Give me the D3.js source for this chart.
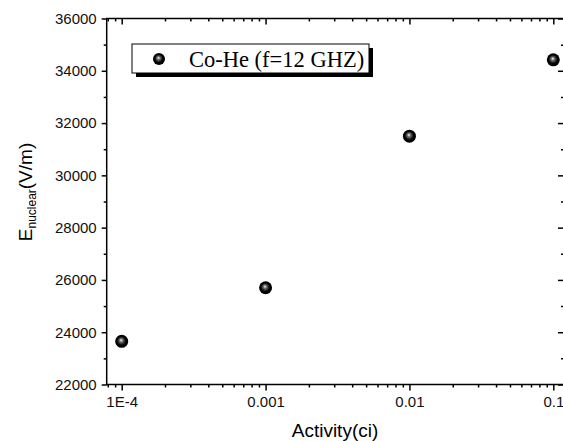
<!DOCTYPE html>
<html>
<head>
  <script src="https://cdn.jsdelivr.net/npm/d3@7/dist/d3.min.js" charset="utf-8"></script>
  <style>
    body { margin: 0; background: #fff; }
    svg { display: block; }
  </style>
</head>
<body>
  <script>

  var width = 563
  var height = 441

  // data
  var activity = [0.0001, 0.001, 0.01, 0.1];
  var eNuclear = [23650, 25700, 31500, 34420];
  var seriesName = "Co-He (f=12 GHZ)";
  var xTickLabels = ["1E-4", "0.001", "0.01", "0.1"];
  var yTicks = [22000, 24000, 26000, 28000, 30000, 32000, 34000, 36000];

  var plotLeft = 106.7, plotRight = 564, plotTop = 18.5, plotBottom = 384.5;

  var x = d3.scaleLog().domain([1e-4, 0.1]).range([121.7, 553.3]);
  var y = d3.scaleLinear().domain([22000, 36000]).range([plotBottom, plotTop]);

  // minor ticks inside the visible frame
  var lo = x.invert(plotLeft), hi = x.invert(plotRight);
  var xMinor = [];
  [-5, -4, -3, -2, -1].forEach(function(e) {
    d3.range(2, 10).forEach(function(m) {
      var v = m * Math.pow(10, e);
      if (v > lo && v < hi) xMinor.push(v);
    });
  });
  var yMinor = d3.range(23000, 36000, 2000);

  var svg = d3.select('body').append("svg")
    .attr("width", width)
    .attr("height", height);

  var defs = svg.append("defs");
  var grad = defs.append("radialGradient")
    .attr("id", "ball")
    .attr("cx", "50%").attr("cy", "50%").attr("r", "55%")
    .attr("fx", "45%").attr("fy", "40%");
  grad.append("stop").attr("offset", "0%").attr("stop-color", "#fff");
  grad.append("stop").attr("offset", "22%").attr("stop-color", "#777");
  grad.append("stop").attr("offset", "60%").attr("stop-color", "#000");
  grad.append("stop").attr("offset", "100%").attr("stop-color", "#000");

  var font = "Liberation Sans, Arial, sans-serif";

  function styleAxis(g) {
    g.select(".domain").remove();
    g.selectAll("line").attr("stroke", "#000").attr("stroke-width", 1.5);
    g.selectAll("text").attr("font-family", font).attr("font-size", 15).attr("fill", "#111");
  }

  // left axis
  svg.append("g").attr("transform", "translate(" + plotLeft + ",0)")
    .call(d3.axisLeft(y).tickValues(yTicks).tickSize(5).tickPadding(5).tickFormat(d3.format("d")))
    .call(styleAxis);
  svg.append("g").attr("transform", "translate(" + plotLeft + ",0)")
    .call(d3.axisLeft(y).tickValues(yMinor).tickSize(3).tickFormat(""))
    .call(styleAxis);

  // right axis (ticks inward)
  svg.append("g").attr("transform", "translate(" + plotRight + ",0)")
    .call(d3.axisLeft(y).tickValues(yTicks).tickSize(6).tickFormat(""))
    .call(styleAxis);
  svg.append("g").attr("transform", "translate(" + plotRight + ",0)")
    .call(d3.axisLeft(y).tickValues(yMinor).tickSize(3).tickFormat(""))
    .call(styleAxis);

  // bottom axis
  svg.append("g").attr("transform", "translate(0," + plotBottom + ")")
    .call(d3.axisBottom(x).tickValues(activity).tickSize(6).tickPadding(6)
      .tickFormat(function(d, i) { return xTickLabels[i]; }))
    .call(styleAxis);
  svg.append("g").attr("transform", "translate(0," + plotBottom + ")")
    .call(d3.axisBottom(x).tickValues(xMinor).tickSize(3).tickFormat(""))
    .call(styleAxis);

  // top axis (ticks inward)
  svg.append("g").attr("transform", "translate(0," + plotTop + ")")
    .call(d3.axisBottom(x).tickValues(activity).tickSize(6).tickFormat(""))
    .call(styleAxis);
  svg.append("g").attr("transform", "translate(0," + plotTop + ")")
    .call(d3.axisBottom(x).tickValues(xMinor).tickSize(3).tickFormat(""))
    .call(styleAxis);

  // frame
  svg.append("rect")
    .attr("x", plotLeft).attr("y", plotTop)
    .attr("width", plotRight - plotLeft).attr("height", plotBottom - plotTop)
    .attr("fill", "none").attr("stroke", "#000").attr("stroke-width", 1.5);

  // points
  svg.selectAll(".pt")
    .data(activity).enter()
    .append("circle")
    .attr("class", "pt")
    .attr("cx", function(d) { return x(d); })
    .attr("cy", function(d, i) { return y(eNuclear[i]); })
    .attr("r", 6.5)
    .attr("fill", "url(#ball)");

  // legend
  var lg = svg.append("g");
  lg.append("rect").attr("x", 136).attr("y", 48).attr("width", 237).attr("height", 29).attr("fill", "#000");
  lg.append("rect").attr("x", 132).attr("y", 44).attr("width", 237).attr("height", 29)
    .attr("fill", "#fff").attr("stroke", "#000").attr("stroke-width", 1);
  lg.append("circle").attr("cx", 159).attr("cy", 59).attr("r", 6).attr("fill", "url(#ball)");
  lg.append("text").attr("x", 189).attr("y", 66.5)
    .attr("font-family", "Liberation Serif, Times New Roman, serif")
    .attr("font-size", 22.5)
    .text(seriesName);

  // axis titles
  svg.append("text")
    .attr("x", 335).attr("y", 437)
    .attr("text-anchor", "middle")
    .attr("font-family", font).attr("font-size", 19)
    .text("Activity(ci)");

  var yt = svg.append("text")
    .attr("transform", "translate(32,192) rotate(-90)")
    .attr("text-anchor", "middle")
    .attr("font-family", font).attr("font-size", 19);
  yt.append("tspan").text("E");
  yt.append("tspan").attr("font-size", 12).attr("dy", 4).text("nuclear");
  yt.append("tspan").attr("dy", -4).text("(V/m)");

  </script>

</body>
</html>
